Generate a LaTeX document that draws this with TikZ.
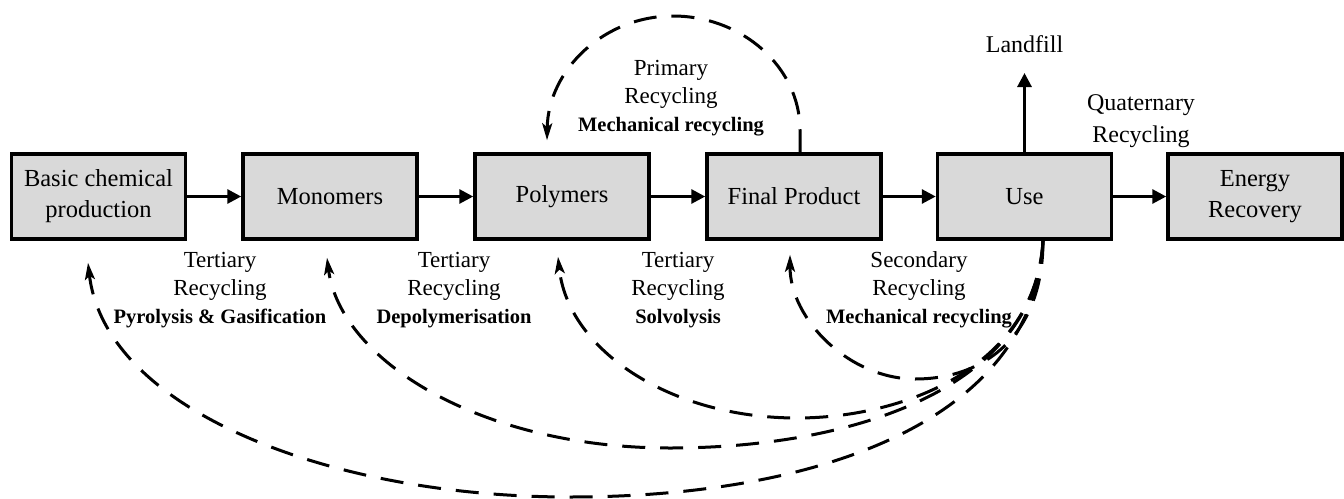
\documentclass[tikz,border=0pt]{standalone}
\usepackage{fontspec}
\setmainfont{LiberationSerif}[Extension=.ttf,UprightFont=*-Regular,BoldFont=*-Bold,ItalicFont=*-Italic,BoldItalicFont=*-BoldItalic]
\usetikzlibrary{arrows.meta}
\definecolor{boxgray}{RGB}{217,217,217}
\begin{document}
\begin{tikzpicture}[x=1pt,y=-1pt,
  box/.style={draw,line width=3.5pt,fill=boxgray,minimum width=174pt,minimum height=85pt,align=center,font=\fontsize{24.5}{31}\selectfont,inner sep=0pt},
  flow/.style={line width=3pt,-{Triangle[length=14pt,width=14pt]}},
  recyc/.style={line width=3pt,dash pattern=on 23pt off 15pt,-{Stealth[length=17pt,width=10pt,inset=4pt]}},
  lbl/.style={align=center,font=\fontsize{23}{28}\selectfont,inner sep=0pt},
  bigl/.style={align=center,font=\fontsize{24}{32}\selectfont,inner sep=0pt}]
\useasboundingbox (0,0) rectangle (1344,498);

% boxes
\node[box] (bc) at (98.5,196.5) {Basic chemical\\production};
\node[box] (mo) at (330,196.5) {Monomers};
\node[box] (po) at (562,196.5) {Polymers};
\node[box] (fp) at (794,196.5) {Final Product};
\node[box] (us) at (1024.5,196.5) {Use};
\node[box] (er) at (1255,196.5) {Energy\\Recovery};

% main flow
\draw[flow] (bc) -- (mo);
\draw[flow] (mo) -- (po);
\draw[flow] (po) -- (fp);
\draw[flow] (fp) -- (us);
\draw[flow] (us) -- (er);

% landfill
\node[bigl,anchor=south,inner ysep=20pt] (lf) at (1024.5,73) {Landfill};
\draw[flow] (us) -- (lf);

% labels
\node[bigl] (qr) at (1141,121) {Quaternary\\Recycling};
\node[lbl] (pr) at (671,98) {Primary\\Recycling\\{\fontsize{20.5}{28}\selectfont\bfseries Mechanical recycling}};
\node[lbl] (t1) at (220,290) {Tertiary\\Recycling\\{\fontsize{20.5}{28}\selectfont\bfseries Pyrolysis \& Gasification}};
\node[lbl] (t2) at (454,290) {Tertiary\\Recycling\\{\fontsize{20.5}{28}\selectfont\bfseries Depolymerisation}};
\node[lbl] (t3) at (678,290) {Tertiary\\Recycling\\{\fontsize{20.5}{28}\selectfont\bfseries Solvolysis}};
\node[lbl] (t4) at (919,290) {Secondary\\Recycling\\{\fontsize{20.5}{28}\selectfont\bfseries Mechanical recycling}};

% primary recycling loop
\draw[recyc] ([xshift=6pt]fp.north) -- (800,130)
  .. controls (800,67) and (742,16) .. (673,16)
  .. controls (604,16) and (548,70) .. ([xshift=-15pt,yshift=12pt]po.north);

% secondary / tertiary loops from Use
\draw[recyc] ([xshift=18.5pt]us.south)
  .. controls (1043,330) and (990,379) .. (915,379)
  .. controls (850,379) and (790,320) .. ([xshift=-4pt,yshift=-14pt]fp.south);
\draw[recyc] ([xshift=18.5pt]us.south)
  .. controls (1035,370) and (900,418) .. (797,418)
  .. controls (670,418) and (568,350) .. ([xshift=-4pt,yshift=-16pt]po.south);
\draw[recyc] ([xshift=18.5pt]us.south)
  .. controls (1035,390) and (850,448) .. (670,448)
  .. controls (480,448) and (340,360) .. ([xshift=-3pt,yshift=-17pt]mo.south);
\draw[recyc] ([xshift=18.5pt]us.south)
  .. controls (1035,420) and (820,497) .. (570,497)
  .. controls (330,497) and (105,410) .. ([xshift=-10.5pt,yshift=-22pt]bc.south);
\end{tikzpicture}
\end{document}
